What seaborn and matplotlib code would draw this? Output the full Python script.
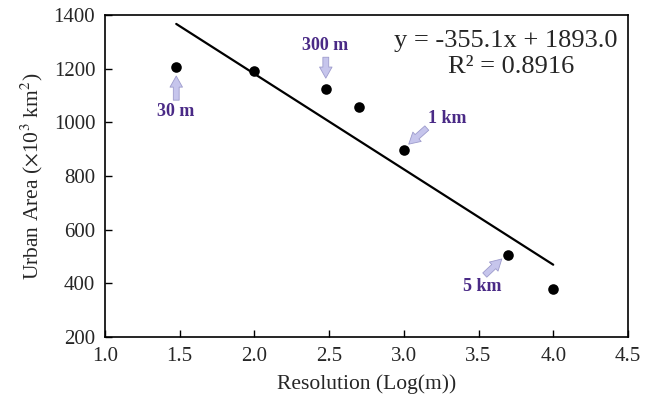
import matplotlib
matplotlib.use("Agg")
import matplotlib.pyplot as plt
import seaborn as sns
import pandas as pd

# resolution (log10 of metres) and urban area (10^3 km^2)
log_res = [1.477, 2.0, 2.477, 2.699, 3.0, 3.699, 4.0]
urban_area = [1207, 1190, 1125, 1057, 898, 507, 380]

# callout labels: text, label position, arrow tail, arrow head
callout_text = ["30 m", "300 m", "1 km", "5 km"]
callout_pos = [(1.475, 1042), (2.472, 1288), (3.288, 1016), (3.522, 390)]
arrow_tail = [(1.477, 1083), (2.478, 1243), (3.154, 979), (3.542, 431)]
arrow_head = [(1.477, 1173), (2.478, 1165), (3.033, 919), (3.656, 491)]

df = pd.DataFrame({"res": log_res, "area": urban_area})

sns.set_style("white")
plt.rcParams["font.family"] = ["Liberation Serif", "DejaVu Serif"]
plt.rcParams["mathtext.fontset"] = "stix"

fig = plt.figure(figsize=(6.46, 4.09), dpi=100)
ax = fig.add_axes([0.1625, 0.176, 0.8095, 0.787])

sns.regplot(data=df, x="res", y="area", ax=ax, ci=None, truncate=True,
            scatter_kws=dict(s=58, color="black", alpha=1, zorder=3, linewidths=0),
            line_kws=dict(color="black", lw=1.6))

# callouts
for txt, pos, tail, head in zip(callout_text, callout_pos, arrow_tail, arrow_head):
    ax.text(pos[0], pos[1], txt, ha="center", va="center", fontsize=13,
            fontweight="bold", color="#4a2a86")
    ax.annotate("", xy=head, xytext=tail,
                arrowprops=dict(arrowstyle="simple,head_length=0.8,head_width=0.9,tail_width=0.42",
                                mutation_scale=10, fc="#c6c5ec", ec="#9d9bcc", lw=0.6,
                                shrinkA=0, shrinkB=0))

ax.text(3.682, 1303, "y = -355.1x + 1893.0", ha="center", va="center", fontsize=19)
ax.text(3.716, 1206, "R² = 0.8916", ha="center", va="center", fontsize=19)

ax.set_xlim(1.0, 4.5)
ax.set_ylim(200, 1400)
ax.set_xticks([1.0, 1.5, 2.0, 2.5, 3.0, 3.5, 4.0, 4.5])
ax.set_xticklabels(["1.0", "1.5", "2.0", "2.5", "3.0", "3.5", "4.0", "4.5"])
ax.set_yticks([200, 400, 600, 800, 1000, 1200, 1400])
ax.tick_params(direction="in", length=5, width=1, labelsize=15, pad=7,
               top=False, right=False, bottom=True, left=True, color="black")
ax.set_xlabel("Resolution (Log(m))", fontsize=15.5, labelpad=6)
ax.set_ylabel(r"Urban Area ($\times$10$^3$ km$^2$)", fontsize=15.5, labelpad=6)

for sp in ax.spines.values():
    sp.set_color("black")
    sp.set_linewidth(1.2)

fig.savefig("out.png", dpi=100)
